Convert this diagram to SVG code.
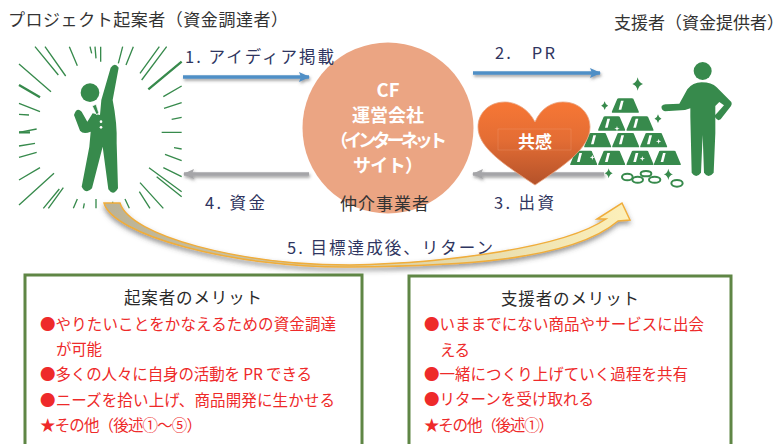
<svg xmlns="http://www.w3.org/2000/svg" width="784" height="444" viewBox="0 0 784 444">
<style>
text{font-family:"Noto Sans CJK JP","Noto Sans",sans-serif}
.title{font-size:17px;fill:#333}
.step{font-size:16.5px;fill:#2f3560}
.cf{font-size:18px;font-weight:700;fill:#fff;text-anchor:middle}
.head{font-size:16.5px;fill:#2a2a2a}
.item{font-size:15.5px;fill:#ee2a2a}
.green{fill:#378a4c}
.ray{stroke:#378a4c;stroke-width:4;fill:none}
.ring{fill:none;stroke:#378a4c;stroke-width:6}
.box{fill:#fff;stroke:#5f8645;stroke-width:3}
.shaft{fill:none;stroke-width:3.5}
</style>
<defs>
<filter id="shadow" filterUnits="userSpaceOnUse" x="0" y="0" width="784" height="444"><feDropShadow dx="1" dy="2" stdDeviation="1.5" flood-color="#555" flood-opacity=".55"/></filter>
<filter id="soft" filterUnits="userSpaceOnUse" x="0" y="0" width="784" height="444"><feDropShadow dx="0" dy="3" stdDeviation="2.5" flood-color="#444" flood-opacity=".55"/></filter>
<linearGradient id="heartFill" x1="0" y1="0" x2="0" y2="1"><stop offset="0" stop-color="#f77735"/><stop offset=".45" stop-color="#e46d34"/><stop offset="1" stop-color="#b4522a"/></linearGradient>
<linearGradient id="swoosh" gradientUnits="userSpaceOnUse" x1="104" y1="0" x2="630" y2="0"><stop offset="0" stop-color="#b9b298"/><stop offset=".5" stop-color="#d8cfa6"/><stop offset="1" stop-color="#fdf0ba"/></linearGradient>
<marker id="blueHead" markerUnits="userSpaceOnUse" markerWidth="12" markerHeight="12" refX="10" refY="6" orient="auto"><path d="M0,1 L11,6 L0,11 L2,6Z" fill="#4f8fc6"/></marker>
<marker id="greyHead" markerUnits="userSpaceOnUse" markerWidth="12" markerHeight="12" refX="10" refY="6" orient="auto"><path d="M0,1 L11,6 L0,11 L2,6Z" fill="#a5a5a8"/></marker>
<g id="bar"><path d="M-40,22 Q-41,20 -40,18 L-24,-20 Q-23,-21 -20,-21 L20,-21 Q23,-21 24,-20 L40,18 Q41,20 40,22Z" class="green"/><path d="M-20,13 L-13,-14 L-5,-14 L-12,13Z" fill="#fff"/></g>
<path id="spark" d="M0,-20 Q3,-4 16,0 Q3,4 0,20 Q-3,4 -16,0 Q-3,-4 0,-20Z" class="green"/>
</defs>

<text class="title" x="8" y="26" textLength="280" lengthAdjust="spacing">プロジェクト起案者（資金調達者）</text>
<text class="title" x="614" y="29" textLength="170" lengthAdjust="spacing">支援者（資金提供者）</text>

<g id="initiator">
<g transform="scale(.33333)">
<path class="ray" d="M105,140L175,225M135,140L197,228M208,140L232,197M270,140L275,160M285,140L288,175M302,140L302,185M368,140L355,190M400,140L378,195M478,140L420,220M500,140L425,240M545,258L490,290M545,308L492,325M545,352L515,358M545,397L485,397M545,447L522,443M545,482L495,463M545,530L490,503M545,575L447,503M545,590L470,530M490,625L420,548M450,625L418,575M388,625L375,597M338,625L338,605M288,625L288,597M250,625L253,610M220,625L232,597M145,625L190,563M130,625L178,567M57,615L162,520M57,540L120,503M57,472L110,457M57,438L105,430M57,397L110,387M57,343L87,345M57,310L120,335M57,192L153,275"/>
<path class="ray" style="stroke-width:7" d="M545,185L445,268M57,255L120,292M57,397L90,397"/>
<circle class="green" cx="270" cy="278" r="28"/>
<path class="green" d="M332,203 Q345,185 356,203 L338,300 Q352,370 350,430 L354,565 Q340,590 325,568 L308,440 L276,565 Q258,585 245,560 L268,440 L272,395 Q250,405 240,392 L222,345 Q230,320 245,335 L262,365 L278,340 L300,345 L304,300Z"/>
<path d="M277,318 L288,313 L296,338 L290,345Z" fill="#378a4c" stroke="#fff" stroke-width="2"/>
<circle cx="303" cy="365" r="4" fill="#fff"/><circle cx="303" cy="382" r="4" fill="#fff"/>
</g>
</g>

<g id="supporter">
<g transform="translate(570,0) scale(.33333)">
<use href="#bar" x="166" y="316"/>
<use href="#bar" x="125" y="370"/><use href="#bar" x="210" y="370"/>
<use href="#bar" x="83" y="420"/><use href="#bar" x="167" y="420"/><use href="#bar" x="251" y="420"/>
<use href="#bar" x="41" y="473"/><use href="#bar" x="125" y="473"/><use href="#bar" x="210" y="473"/><use href="#bar" x="292" y="473"/>
<path d="M141,378l2,6 6,2 -6,2 -2,6 -2,-6 -6,-2 6,-2Z M266,416l2,6 6,2 -6,2 -2,6 -2,-6 -6,-2 6,-2Z M217,468l2,6 6,2 -6,2 -2,6 -2,-6 -6,-2 6,-2Z M67,464l2,6 6,2 -6,2 -2,6 -2,-6 -6,-2 6,-2Z" fill="#fff"/>
<use href="#spark" x="203" y="252"/>
<use href="#spark" transform="translate(104,317) scale(.65)"/>
<use href="#spark" transform="translate(264,356) scale(.65)"/>
<use href="#spark" transform="translate(116,520) scale(.75)"/>
<use href="#spark" transform="translate(295,523) scale(.85)"/>
<ellipse class="ring" cx="172" cy="531" rx="16" ry="10"/>
<ellipse class="ring" cx="203" cy="539" rx="16" ry="9"/>
<ellipse class="ring" cx="228" cy="521" rx="16" ry="8"/>
<ellipse class="ring" cx="254" cy="539" rx="17" ry="9"/>
<ellipse class="ring" cx="321" cy="550" rx="17" ry="10"/>
<circle class="green" cx="398" cy="213" r="27"/>
<path class="green" d="M395,247 Q425,247 440,262 L484,306 Q487,312 483,318 L452,358 Q442,365 436,352 L436,400 L431,518 Q415,538 402,518 L398,405 L393,518 Q378,538 365,518 L361,350 L361,325 L345,330 L285,334 Q272,330 275,318 Q280,312 290,313 L328,311 L352,268 Q368,247 395,247Z"/>
<path d="M436,345 L436,318 L448,306 L462,316Z" fill="#fff"/>
</g>
</g>

<g id="cf-company">
<circle cx="388" cy="128" r="85.5" fill="#eba583"/>
<text class="cf" x="388" y="97" textLength="23" lengthAdjust="spacingAndGlyphs">CF</text>
<text class="cf" x="388" y="122">運営会社</text>
<text class="cf" x="388.500" y="147" textLength="117" lengthAdjust="spacing">（インターネット</text>
<text class="cf" x="388" y="172" textLength="70" lengthAdjust="spacing">サイト）</text>
</g>

<g id="connectors">
<line class="shaft" x1="183" y1="77" x2="309" y2="77" stroke="#4f8fc6" marker-end="url(#blueHead)" filter="url(#shadow)"/>
<line class="shaft" x1="473" y1="73" x2="600" y2="73" stroke="#4f8fc6" marker-end="url(#blueHead)" filter="url(#shadow)"/>
<line class="shaft" x1="604" y1="174" x2="473" y2="174" stroke="#a5a5a8" marker-end="url(#greyHead)" filter="url(#shadow)"/>
<line class="shaft" x1="309" y1="174" x2="184" y2="174" stroke="#a5a5a8" marker-end="url(#greyHead)" filter="url(#shadow)"/>
<path d="M104,203 C112,234 230,268 350,267 C450,266 570,262 618,221 L630,220 L622,203 L597,219 L606,219 C565,247 450,263 350,265 C240,265 130,236 120,203Z" fill="url(#swoosh)" stroke="#f0ad3a" stroke-width="1.500" filter="url(#soft)"/>
</g>

<g id="empathy">
<path d="M535,122 C528,108 515,102 505,102 C488,102 478,114 478,127 C478,148 505,165 535,185 C565,165 590,148 590,127 C590,114 580,102 563,102 C552,102 541,108 535,122Z" fill="url(#heartFill)" stroke="#e8a27d" stroke-width=".8"/>
<rect x="498" y="129" width="73" height="21" fill="none" stroke="#f0a27a" stroke-width=".5" opacity=".6"/>
<text x="535" y="148" font-size="17" font-weight="700" fill="#fff" text-anchor="middle">共感</text>
</g>

<g id="step-labels">
<text class="step" x="185" y="63" textLength="149" lengthAdjust="spacing">1. アイディア掲載</text>
<text class="step" x="495" y="59" textLength="60" lengthAdjust="spacing">2.　PR</text>
<text class="step" x="494" y="209" textLength="60" lengthAdjust="spacing">3. 出資</text>
<text class="step" x="205" y="209" textLength="60" lengthAdjust="spacing">4. 資金</text>
<text class="step" x="287" y="254" textLength="206" lengthAdjust="spacing">5. 目標達成後、リターン</text>
<text x="340" y="210" font-size="17" fill="#333" textLength="89" lengthAdjust="spacing">仲介事業者</text>
</g>

<g id="initiator-merits">
<rect class="box" x="25" y="275" width="337" height="185"/>
<text class="head" x="124" y="304" textLength="138" lengthAdjust="spacing">起案者のメリット</text>
<text class="item" x="40" y="330" textLength="296" lengthAdjust="spacing">●やりたいことをかなえるための資金調達</text>
<text class="item" x="56" y="355" textLength="46" lengthAdjust="spacing">が可能</text>
<text class="item" x="40" y="380" textLength="272" lengthAdjust="spacing">●多くの人々に自身の活動を PR できる</text>
<text class="item" x="40" y="406" textLength="295" lengthAdjust="spacing">●ニーズを拾い上げ、商品開発に生かせる</text>
<text class="item" x="40" y="431" textLength="162" lengthAdjust="spacing">★その他（後述①～⑤）</text>
</g>

<g id="supporter-merits">
<rect class="box" x="409" y="276" width="322" height="185"/>
<text class="head" x="501" y="305" textLength="138" lengthAdjust="spacing">支援者のメリット</text>
<text class="item" x="424" y="330" textLength="280" lengthAdjust="spacing">●いままでにない商品やサービスに出会</text>
<text class="item" x="440" y="356" textLength="30" lengthAdjust="spacing">える</text>
<text class="item" x="424" y="380" textLength="264" lengthAdjust="spacing">●一緒につくり上げていく過程を共有</text>
<text class="item" x="424" y="405" textLength="170" lengthAdjust="spacing">●リターンを受け取れる</text>
<text class="item" x="424" y="431" textLength="130" lengthAdjust="spacing">★その他（後述①）</text>
</g>
</svg>
